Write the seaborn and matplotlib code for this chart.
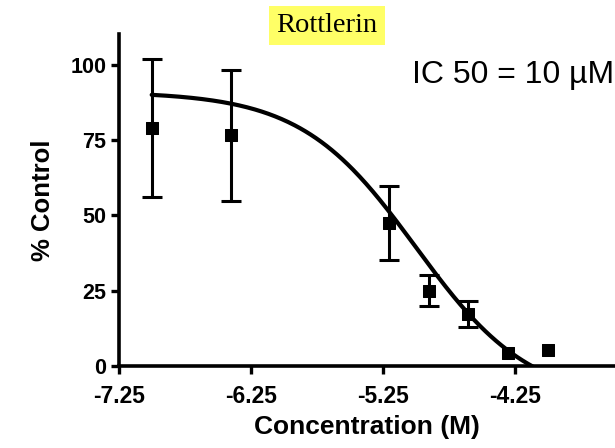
import numpy as np
import pandas as pd
import matplotlib
matplotlib.use("Agg")
import matplotlib.pyplot as plt
import seaborn as sns

# measured points (log10 molar concentration, % of control, SEM; 0 = no bar drawn)
log_conc = [-7.0, -6.4, -5.2, -4.9, -4.6, -4.3, -4.0]
pct_control = [79.0, 76.5, 47.5, 25.0, 17.3, 4.2, 5.2]
sem = [23.0, 21.8, 12.3, 5.2, 4.4, 0.0, 0.0]

# four-parameter logistic fit
fit_top = 91.0
fit_bottom = -12.0
fit_log_ic50 = -5.0
fit_hill = 1.0

x_ticks = [-7.25, -6.25, -5.25, -4.25]
y_ticks = [0, 25, 50, 75, 100]

sns.set_style("ticks")
plt.rcParams["font.family"] = ["Liberation Sans", "DejaVu Sans"]
for key in ["text.color", "axes.labelcolor", "xtick.color", "ytick.color", "axes.edgecolor"]:
    plt.rcParams[key] = "black"

fig = plt.figure(figsize=(6.15, 4.48), dpi=100)
ax = fig.add_axes([0.193, 0.183, 0.807, 0.74])

points = pd.DataFrame({"x": log_conc, "y": pct_control, "err": sem})
xs = np.linspace(log_conc[0], log_conc[-1], 300)
curve = pd.DataFrame({
    "x": xs,
    "y": fit_bottom + (fit_top - fit_bottom) / (1 + 10 ** ((xs - fit_log_ic50) * fit_hill)),
})

sns.lineplot(data=curve, x="x", y="y", ax=ax, color="black", linewidth=3.0)
bars = points[points["err"] > 0]
ax.errorbar(bars["x"], bars["y"], yerr=bars["err"], fmt="none", ecolor="black",
            elinewidth=2.2, capsize=7, capthick=2.2)
sns.scatterplot(data=points, x="x", y="y", ax=ax, marker="s", s=85,
                color="black", edgecolor="black", zorder=5, clip_on=False)

ax.set_xlim(-7.25, -3.49)
ax.set_ylim(0, 110)
ax.set_xticks(x_ticks)
ax.set_xticklabels([f"{t:.2f}" for t in x_ticks])
ax.set_yticks(y_ticks)
for lab in ax.get_xticklabels():
    lab.set_fontweight("bold")
    lab.set_fontsize(16.5)
for lab in ax.get_yticklabels():
    lab.set_fontweight("bold")
    lab.set_fontsize(15.5)

sns.despine(ax=ax)
for side in ["left", "bottom"]:
    ax.spines[side].set_linewidth(2.6)
ax.tick_params(axis="both", width=2.4, length=6, color="black")
ax.tick_params(axis="x", pad=8)
ax.tick_params(axis="y", pad=3)

ax.set_xlabel("Concentration (M)", fontsize=19, fontweight="bold", labelpad=5)
ax.set_ylabel("% Control", fontsize=18.5, fontweight="bold", labelpad=11)

ax.text(-5.03, 96.5, "IC 50 = 10 \u00b5M", fontsize=23, ha="left", va="center")

fig.text(0.532, 0.943, "Rottlerin", fontsize=20.5, family=["Liberation Serif", "DejaVu Serif"],
         ha="center", va="center",
         bbox=dict(boxstyle="square,pad=0.25", facecolor="#ffff66", edgecolor="none"))

fig.savefig("out.png", dpi=100)
